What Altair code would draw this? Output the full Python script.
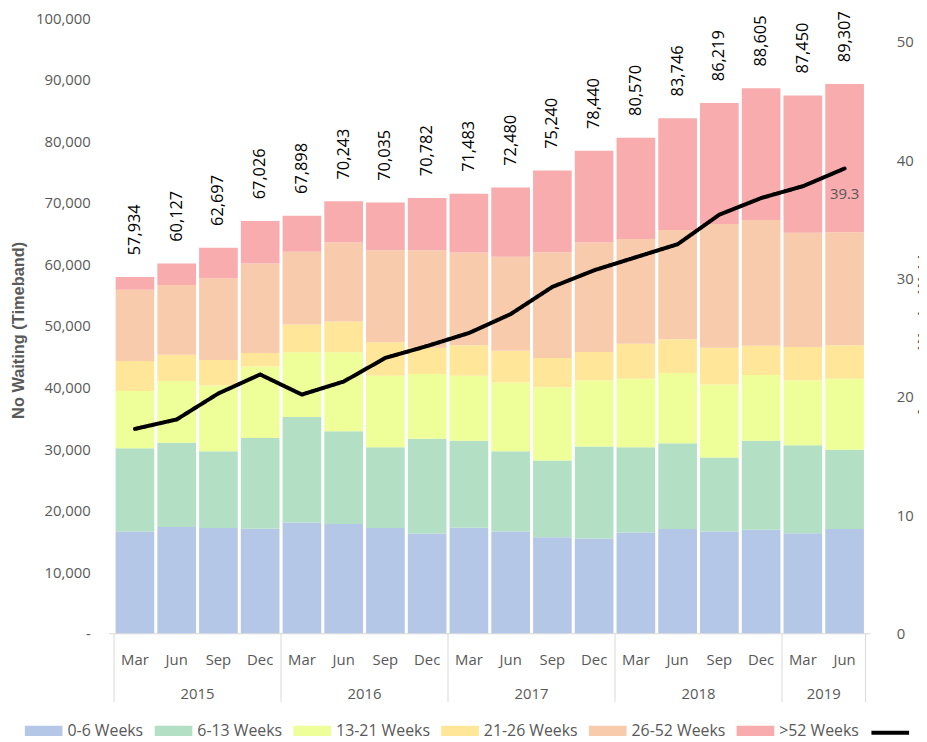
import altair as alt
import pandas as pd

# ---------------- data ----------------
months = ["Mar", "Jun", "Sep", "Dec"] * 4 + ["Mar", "Jun"]
years = ["2015"] * 4 + ["2016"] * 4 + ["2017"] * 4 + ["2018"] * 4 + ["2019"] * 2

bands = ["0-6 Weeks", "6-13 Weeks", "13-21 Weeks", "21-26 Weeks", "26-52 Weeks", ">52 Weeks"]
band_colors = ["#B4C7E7", "#B3E0C4", "#EEFF99", "#FFE699", "#F8CBAD", "#F8ACAE"]

w_0_6 = [16590, 17330, 17170, 17070, 18080, 17810, 17170, 16270, 17230,
         16590, 15680, 15470, 16430, 17010, 16590, 16910, 16320, 17010]
w_6_13 = [13540, 13710, 12480, 14720, 17120, 15100, 13120, 15410, 14130,
          13060, 12480, 14930, 13860, 13920, 12050, 14450, 14290, 12860]
w_13_21 = [9280, 10030, 10670, 11610, 10510, 12800, 11630, 10510, 10560,
           11150, 11890, 10720, 11150, 11410, 11840, 10670, 10510, 11570]
w_21_26 = [4910, 4260, 4160, 2200, 4530, 5010, 5440, 4260, 4960,
           5170, 4750, 4640, 5650, 5500, 5970, 4740, 5440, 5440]
w_26_52 = [11570, 11310, 13280, 14560, 11790, 12850, 14930, 15840, 15040,
           15260, 17170, 17810, 17020, 17760, 20110, 20430, 18560, 18350]
w_52_plus = [2044, 3487, 4937, 6866, 5868, 6673, 7745, 8492, 9563,
             11250, 13270, 14870, 16460, 18146, 19659, 21405, 22330, 24077]

totals = [57934, 60127, 62697, 67026, 67898, 70243, 70035, 70782, 71483,
          72480, 75240, 78440, 80570, 83746, 86219, 88605, 87450, 89307]

avg_weeks = [17.3, 18.1, 20.3, 21.9, 20.2, 21.3, 23.3, 24.3, 25.4,
             27.0, 29.3, 30.7, 31.8, 32.9, 35.4, 36.8, 37.8, 39.3]

series_values = [w_0_6, w_6_13, w_13_21, w_21_26, w_26_52, w_52_plus]

# ---------------- tables ----------------
n = len(months)
rows = []
for b, (band, vals) in enumerate(zip(bands, series_values)):
    for i, v in enumerate(vals):
        rows.append({"pos": i + 0.5, "band": band, "bidx": b, "value": v})
bars_df = pd.DataFrame(rows)

per_df = pd.DataFrame({
    "pos": [i + 0.5 for i in range(n)],
    "month": months,
    "year": years,
    "total": totals,
    "avg": avg_weeks,
    "series": ["Avg"] * n,
    "idx": list(range(n)),
})

groups = []
start = 0
for i in range(1, n + 1):
    if i == n or years[i] != years[start]:
        groups.append((years[start], start, i))
        start = i
year_df = pd.DataFrame({"year": [g[0] for g in groups],
                        "center": [(g[1] + g[2]) / 2 for g in groups]})
sep_df = pd.DataFrame({"b": [0] + [g[2] for g in groups]})

# ---------------- styling ----------------
FONT = "Open Sans"
GREY = "#595959"
W, H = 768, 621
TOP = 7

xscale = alt.Scale(domain=[0, n], nice=False, zero=False)
yscale = alt.Scale(domain=[0, 100000], nice=False)
y2scale = alt.Scale(domain=[0, 52], nice=False)
cscale = alt.Scale(domain=bands, range=band_colors)

band_legend = alt.Legend(
    title=None, orient="none", direction="horizontal",
    legendX=-85, legendY=H + 79,
    labelFont=FONT, labelFontSize=16, labelColor=GREY,
    symbolType="M-1,-0.27H1V0.27H-1Z", symbolSize=1444,
    symbolStrokeWidth=0, labelOffset=5, columnPadding=11,
)

line_legend = alt.Legend(
    title=None, orient="none", direction="horizontal",
    legendX=767, legendY=H + 79,
    labelExpr="''", symbolType="stroke", symbolSize=1444,
    symbolStrokeWidth=4, symbolStrokeColor="#000000",
)

left_axis = alt.Axis(values=list(range(0, 100001, 10000)),
                     labelExpr="datum.value == 0 ? '-' : format(datum.value, ',')",
                     labelFont=FONT, labelFontSize=15, labelColor=GREY,
                     labelPadding=19, ticks=False, domain=False, grid=False,
                     title="No Waiting (Timeband)", titleFont="Liberation Sans",
                     titleFontSize=16.5, titleFontWeight="bold", titleColor=GREY,
                     titleX=-83, titleY=H / 2 + 4, titleAngle=270,
                     titleBaseline="bottom", titleAlign="center")

right_axis = alt.Axis(orient="right", values=[0, 10, 20, 30, 40, 50],
                      labelFont=FONT, labelFontSize=15, labelColor=GREY,
                      labelPadding=26, ticks=False, domain=False, grid=False,
                      title="Average Weeks Waiting", titleFont="Liberation Sans",
                      titleFontSize=16.5, titleFontWeight="bold", titleColor=GREY,
                      titleAngle=270, titleX=47, titleBaseline="top")

bars = alt.Chart(bars_df).mark_bar(size=39).encode(
    x=alt.X("pos:Q", scale=xscale, axis=None),
    y=alt.Y("value:Q", stack="zero", scale=yscale, axis=left_axis),
    color=alt.Color("band:N", scale=cscale, legend=band_legend),
    order=alt.Order("bidx:Q", sort="ascending"),
)

total_labels = alt.Chart(per_df).mark_text(
    angle=270, align="left", baseline="middle", dx=22,
    font=FONT, fontSize=16.5, color="#000000",
).encode(
    x=alt.X("pos:Q", scale=xscale, axis=None),
    y=alt.Y("total:Q", scale=yscale, axis=left_axis),
    text=alt.Text("total:Q", format=","),
)

month_labels = alt.Chart(per_df).mark_text(
    baseline="middle", font=FONT, fontSize=15, color=GREY,
).encode(
    x=alt.X("pos:Q", scale=xscale, axis=None),
    y=alt.value(H + 27),
    text="month:N",
)

year_labels = alt.Chart(year_df).mark_text(
    baseline="middle", font=FONT, fontSize=15, color=GREY,
).encode(
    x=alt.X("center:Q", scale=xscale, axis=None),
    y=alt.value(H + 61),
    text="year:N",
)

separators = alt.Chart(sep_df).mark_rule(color="#D9D9D9", strokeWidth=1).encode(
    x=alt.X("b:Q", scale=xscale, axis=None),
    y=alt.value(H),
    y2=alt.value(H + 69),
)

baseline = alt.Chart(pd.DataFrame({"a": [0]})).mark_rule(
    color="#D9D9D9", strokeWidth=1
).encode(x=alt.value(0), x2=alt.value(W), y=alt.value(H))

line = alt.Chart(per_df).mark_line(
    strokeWidth=4, strokeJoin="round", strokeCap="round", color="#000000"
).encode(
    x=alt.X("pos:Q", scale=xscale, axis=None),
    y=alt.Y("avg:Q", scale=y2scale, axis=right_axis),
    strokeDash=alt.StrokeDash("series:N",
                              scale=alt.Scale(domain=["Avg"], range=[[1, 0]]),
                              legend=line_legend),
)

last_label = alt.Chart(per_df).transform_filter(
    alt.datum.idx == n - 1
).mark_text(baseline="middle", dy=26, font=FONT, fontSize=15, color=GREY).encode(
    x=alt.X("pos:Q", scale=xscale, axis=None),
    y=alt.Y("avg:Q", scale=y2scale, axis=right_axis),
    text=alt.Text("avg:Q", format=".1f"),
)

left = alt.layer(bars, total_labels, separators, baseline, month_labels, year_labels)
right = alt.layer(line, last_label)

chart = alt.layer(left, right).resolve_scale(y="independent").properties(
    width=W, height=H,
    padding={"left": 102, "top": TOP, "right": 49, "bottom": 742 - 8 - TOP - H},
    autosize=alt.AutoSizeParams(type="none"),
).configure_view(stroke=None)

chart.save("out.html", embed_options={"renderer": "svg", "actions": False})
